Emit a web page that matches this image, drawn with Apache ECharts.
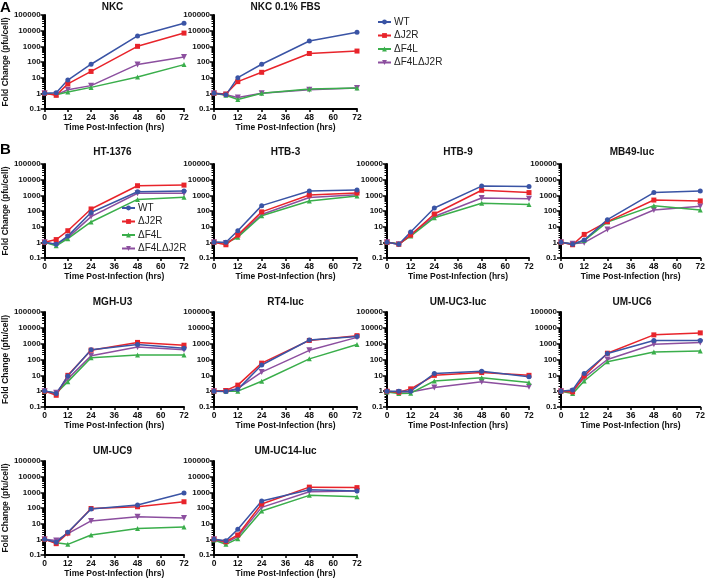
<!DOCTYPE html>
<html><head><meta charset="utf-8">
<script src="https://cdn.jsdelivr.net/npm/echarts@6/dist/echarts.min.js"></script>
<style>html,body{margin:0;padding:0;background:#fff}#c{width:708px;height:581px}</style>
</head><body><div id="c"></div>
<script>
const times = [0, 6, 12, 24, 48, 72];
const seriesNames = ['WT', 'ΔJ2R', 'ΔF4L', 'ΔF4LΔJ2R'];
const panelTitles = ['NKC', 'NKC 0.1% FBS', 'HT-1376', 'HTB-3', 'HTB-9', 'MB49-luc',
  'MGH-U3', 'RT4-luc', 'UM-UC3-luc', 'UM-UC6', 'UM-UC9', 'UM-UC14-luc'];
const yTicks = [0.1, 1, 10, 100, 1000, 10000, 100000];
const xTicks = [0, 12, 24, 36, 48, 60, 72];
// each panel: [WT, ΔJ2R, ΔF4L, ΔF4LΔJ2R]
const nkc = [[1, 1.1, 7, 72, 4600, 30000], [1, 0.75, 4, 25, 1000, 7000], [1, 0.8, 1.2, 2.4, 11, 68], [1, 0.8, 1.7, 3.1, 70, 205]];
const nkcFbs = [[1, 0.8, 10, 72, 2200, 8000], [1, 0.9, 5.6, 22, 350, 500], [1, 0.75, 0.4, 1, 1.9, 2.2], [1, 0.8, 0.55, 1, 1.7, 2.2]];
const ht1376 = [[1, 0.75, 2.5, 80, 1700, 1900], [1, 1.5, 5.5, 135, 4100, 4500], [1, 0.6, 1.7, 20, 550, 750], [1, 0.7, 2, 44, 1350, 1350]];
const htb3 = [[1, 1, 5.5, 220, 1900, 2200], [1, 0.7, 2.9, 88, 1050, 1400], [1, 0.9, 2.1, 50, 440, 920], [1, 0.9, 2.5, 60, 720, 1100]];
const htb9 = [[1, 0.75, 4.6, 155, 3900, 3600], [1, 0.75, 2.9, 64, 2100, 1500], [1, 0.8, 2.5, 37, 310, 260], [1, 0.75, 3, 45, 670, 610]];
const mb49 = [[1, 0.75, 1.4, 28, 1500, 1900], [1, 0.7, 3.2, 21, 500, 440], [1, 0.75, 1.3, 20, 220, 115], [1, 0.8, 0.95, 6.5, 115, 200]];
const mghu3 = [[1.05, 0.7, 9, 420, 880, 520], [1, 0.55, 10, 390, 1200, 800], [1, 0.75, 4, 130, 190, 190], [1, 0.8, 6, 170, 610, 420]];
const rt4 = [[1, 0.95, 1.3, 45, 1700, 2800], [1, 1.1, 2.4, 59, 1600, 3200], [1, 1, 1, 4.2, 110, 880], [1, 1, 1.5, 16, 380, 2500]];
const ucc3 = [[1, 1, 1, 13, 18, 8.2], [1, 0.85, 1.4, 10, 15, 10], [0.9, 0.7, 0.75, 4.4, 7.1, 3.5], [0.9, 0.85, 0.9, 1.7, 4, 1.9]];
const ucc6 = [[1, 1.2, 13, 240, 1600, 1600], [1, 0.9, 9, 250, 3600, 4800], [1, 0.7, 4.4, 72, 300, 350], [1, 1, 7, 100, 930, 1200]];
const ucc9 = [[1, 0.65, 2.8, 87, 155, 900], [1, 0.53, 2.5, 93, 120, 250], [1, 0.6, 0.48, 1.9, 5, 6.1], [1, 0.85, 2.3, 15, 28, 23]];
const ucc14 = [[1, 0.8, 4.4, 280, 1480, 1200], [1, 0.7, 1.9, 180, 2150, 2000], [0.9, 0.48, 1.1, 64, 640, 530], [1, 0.6, 1.5, 110, 1100, 1200]];
const panels = [nkc, nkcFbs, ht1376, htb3, htb9, mb49, mghu3, rt4, ucc3, ucc6, ucc9, ucc14];

const colors = ['#3a54a5', '#e8242b', '#3aae4b', '#8c4f9f'];
const symbols = ['circle', 'rect', 'triangle', 'path://M0,0 L10,0 L5,9 Z'];

// layout
const colLeft = [41, 214, 387, 561];
const colWidth = [143, 143, 142, 142];
const rowTop = [15, 164, 312, 461];
const plotH = 94;
const cells = [[0,0],[0,1],[1,0],[1,1],[1,2],[1,3],[2,0],[2,1],[2,2],[2,3],[3,0],[3,1]];
const titleY = [2, 147, 297, 446];

const font = 'Liberation Sans, Arial, sans-serif';
const grids = [], xAxes = [], yAxes = [], series = [], titles = [];
cells.forEach(([r, c], i) => {
  grids.push({left: colLeft[c], top: rowTop[r], width: colWidth[c], height: plotH + (r === 2 ? 1 : 0), containLabel: false});
  xAxes.push({
    type: 'value', gridIndex: i, min: 0, max: 72, interval: 12,
    name: 'Time Post-Infection (hrs)', nameLocation: 'middle', nameGap: 14,
    nameTextStyle: {fontFamily: font, fontWeight: 'bold', fontSize: 8.5, color: '#111'},
    axisLine: {show: true, onZero: false, lineStyle: {color: '#000', width: 2}},
    axisTick: {show: true, length: 3, lineStyle: {color: '#000', width: 1.5}},
    axisLabel: {fontFamily: font, fontWeight: 'bold', fontSize: 8.5, color: '#111', margin: 4,
      formatter: v => xTicks.includes(v) ? String(v) : ''},
    splitLine: {show: false}
  });
  yAxes.push({
    type: 'log', logBase: 10, gridIndex: i, min: 0.1, max: 100000, splitNumber: 6,
    name: c === 0 ? 'Fold Change (pfu/cell)' : '', nameLocation: 'middle', nameGap: 26,
    nameTextStyle: {fontFamily: font, fontWeight: 'bold', fontSize: 8.5, color: '#111'},
    axisLine: {show: true, onZero: false, lineStyle: {color: '#000', width: 2}},
    axisTick: {show: true, length: 4, lineStyle: {color: '#000', width: 1.5}},
    minorTick: {show: true, splitNumber: 9, length: 2.5, lineStyle: {color: '#000', width: 1}},
    axisLabel: {fontFamily: font, fontWeight: 'bold', fontSize: 8, color: '#111', margin: 4,
      formatter: v => { const n = +(+v).toPrecision(6); return yTicks.includes(n) ? String(n) : ''; }},
    splitLine: {show: false}, minorSplitLine: {show: false}
  });
  titles.push({
    text: panelTitles[i], left: colLeft[c] + colWidth[c] / 2, top: titleY[r], textAlign: 'center', padding: 0,
    textStyle: {fontFamily: font, fontWeight: 'bold', fontSize: 10, color: '#111'}
  });
  // draw WT last (on top)
  [3, 2, 1, 0].forEach(k => {
    series.push({
      type: 'line', name: seriesNames[k], xAxisIndex: i, yAxisIndex: i,
      data: times.map((t, j) => [t, panels[i][k][j]]),
      symbol: symbols[k], symbolSize: k === 3 ? 6 : 5, showSymbol: true,
      lineStyle: {color: colors[k], width: 1.5}, itemStyle: {color: colors[k]},
      emphasis: {disabled: true}, animation: false
    });
  });
});
titles.push({text: 'A', left: 0, top: 0, padding: 0, textStyle: {fontFamily: font, fontWeight: 'bold', fontSize: 15, color: '#000'}});
titles.push({text: 'B', left: 0, top: 142, padding: 0, textStyle: {fontFamily: font, fontWeight: 'bold', fontSize: 15, color: '#000'}});

const legendBase = {
  orient: 'vertical', data: seriesNames, itemWidth: 13, itemHeight: 6, itemGap: 3.5,
  textStyle: {fontFamily: font, fontSize: 10, color: '#222', padding: [0, 0, 0, -2]}, selectedMode: false, padding: 0
};
const chart = echarts.init(document.getElementById('c'), null, {renderer: 'canvas'});
chart.setOption({
  backgroundColor: '#fff',
  animation: false,
  title: titles,
  legend: [Object.assign({left: 377, top: 17}, legendBase), Object.assign({left: 121, top: 203}, legendBase)],
  grid: grids, xAxis: xAxes, yAxis: yAxes, series: series
});
</script></body></html>
